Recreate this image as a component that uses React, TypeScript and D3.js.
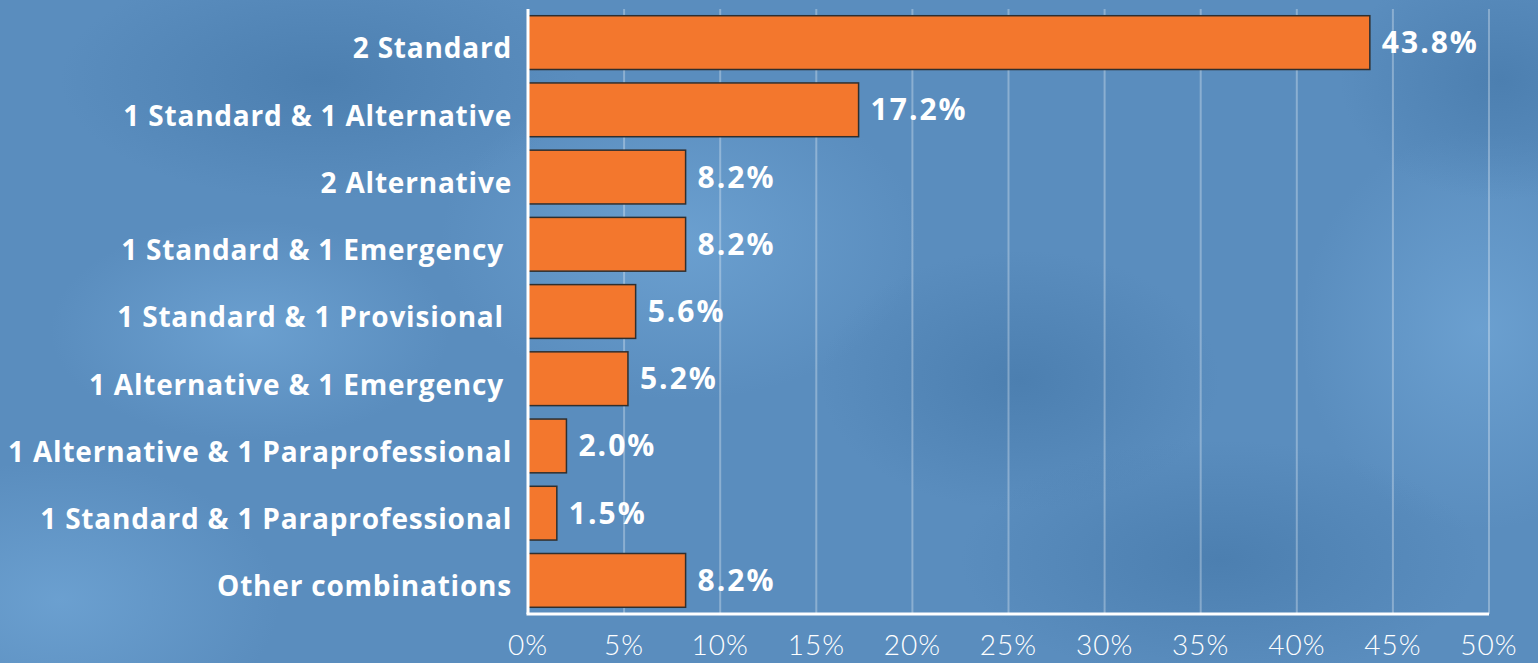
import React from 'react';
import * as d3 from 'd3';

// Categories and shares (percent), top to bottom
const categories = [
  '2 Standard',
  '1 Standard & 1 Alternative',
  '2 Alternative',
  '1 Standard & 1 Emergency ',
  '1 Standard & 1 Provisional ',
  '1 Alternative & 1 Emergency ',
  '1 Alternative & 1 Paraprofessional',
  '1 Standard & 1 Paraprofessional',
  'Other combinations',
];
const shares = [43.8, 17.2, 8.2, 8.2, 5.6, 5.2, 2.0, 1.5, 8.2];
const xTicks = [0, 5, 10, 15, 20, 25, 30, 35, 40, 45, 50];

const W = 1538;
const H = 663;
const margin = { top: 9, right: 49, bottom: 49, left: 528 };

const App: React.FC = () => {
  const innerW = W - margin.left - margin.right;
  const innerH = H - margin.top - margin.bottom;

  const x = d3.scaleLinear().domain([0, 50]).range([0, innerW]);
  const y = d3.scaleBand<string>()
    .domain(categories)
    .range([0, innerH])
    .paddingInner(0.2)
    .paddingOuter(0.1);

  const rows = categories.map((c, i) => ({ name: c, value: shares[i] }));

  return (
    <div style={{ position: 'absolute', left: 0, top: 0 }}>
      <svg width={W} height={H} style={{ display: 'block' }}>
        <defs>
          <radialGradient id="blobLight" cx="50%" cy="50%" r="50%">
            <stop offset="0%" stopColor="#6ea3d3" stopOpacity={0.85} />
            <stop offset="100%" stopColor="#6ea3d3" stopOpacity={0} />
          </radialGradient>
          <radialGradient id="blobDark" cx="50%" cy="50%" r="50%">
            <stop offset="0%" stopColor="#4679aa" stopOpacity={0.7} />
            <stop offset="100%" stopColor="#4679aa" stopOpacity={0} />
          </radialGradient>
        </defs>

        {/* mottled blue background */}
        <rect width={W} height={H} fill="#5a8dbe" />
        <ellipse cx={60} cy={600} rx={220} ry={140} fill="url(#blobLight)" />
        <ellipse cx={320} cy={80} rx={260} ry={120} fill="url(#blobDark)" />
        <ellipse cx={680} cy={240} rx={240} ry={160} fill="url(#blobLight)" />
        <ellipse cx={1020} cy={380} rx={200} ry={130} fill="url(#blobDark)" />
        <ellipse cx={1480} cy={330} rx={180} ry={200} fill="url(#blobLight)" />
        <ellipse cx={1220} cy={560} rx={260} ry={120} fill="url(#blobDark)" />
        <ellipse cx={1500} cy={80} rx={160} ry={120} fill="url(#blobDark)" />
        <ellipse cx={250} cy={330} rx={200} ry={110} fill="url(#blobLight)" />

        <g transform={`translate(${margin.left},${margin.top})`}>
          {/* vertical gridlines */}
          {xTicks.filter(t => t > 0).map(t => (
            <line key={t} x1={x(t)} x2={x(t)} y1={0} y2={innerH}
              stroke="#ffffff" strokeOpacity={0.3} strokeWidth={2} />
          ))}

          {/* bars */}
          {rows.map(d => (
            <rect key={d.name}
              x={x(0)} y={y(d.name)} width={x(d.value) - x(0)} height={y.bandwidth()}
              fill="#f3772d" stroke="#2f2f2f" strokeWidth={1.5} />
          ))}

          {/* axes */}
          <line x1={0} x2={0} y1={0} y2={innerH} stroke="#ffffff" strokeWidth={3} />
          <line x1={-1.5} x2={x(50)} y1={innerH} y2={innerH} stroke="#ffffff" strokeWidth={3} />

          {/* category labels */}
          {rows.map(d => (
            <text key={d.name}
              x={-16} y={(y(d.name) ?? 0) + y.bandwidth() / 2 + 6} dy="0.35em"
              textAnchor="end" fill="#ffffff"
              style={{ font: '700 28px "Open Sans", sans-serif', letterSpacing: '0.8px', whiteSpace: 'pre' }}>
              {d.name}
            </text>
          ))}

          {/* value labels */}
          {rows.map(d => (
            <text key={d.name}
              x={x(d.value) + 12} y={(y(d.name) ?? 0) + y.bandwidth() / 2} dy="0.35em"
              fill="#ffffff"
              style={{ font: '700 30px "Open Sans", sans-serif', letterSpacing: '2px' }}>
              {d.value.toFixed(1)}%
            </text>
          ))}

          {/* x tick labels */}
          {xTicks.map(t => (
            <text key={t} x={x(t)} y={innerH + 31} dy="0.35em" textAnchor="middle"
              fill="#ffffff"
              style={{ font: '300 28px Lato, sans-serif', letterSpacing: '1px' }}>
              {t}%
            </text>
          ))}
        </g>
      </svg>
    </div>
  );
};

export default App;
